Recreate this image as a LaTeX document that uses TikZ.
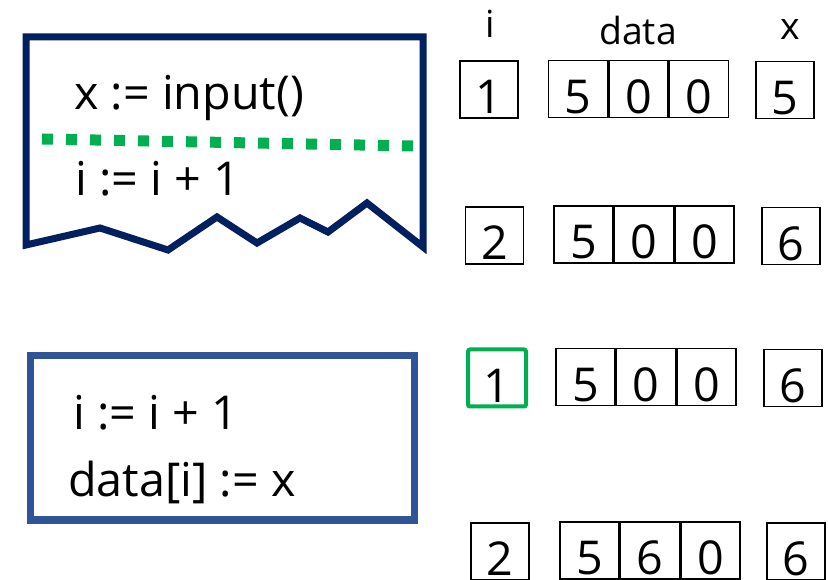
\documentclass[tikz,border=0pt]{standalone}
\usepackage{fontspec}
\setmainfont{Open Sans}
\definecolor{navy}{HTML}{002060}
\definecolor{midblue}{HTML}{2F5597}
\definecolor{okgreen}{HTML}{00B050}
\begin{document}
\begin{tikzpicture}[x=0.75pt,y=-0.75pt,
  code/.style={anchor=base west,inner sep=0,font=\fontsize{35pt}{42pt}\selectfont},
  head/.style={anchor=base,inner sep=0,font=\fontsize{28pt}{34pt}\selectfont},
  cell/.style={draw=black,line width=1.1pt,inner sep=0,minimum width=43.5pt,minimum height=42.75pt,
    text height=39.5pt,text depth=3.25pt,font=\fontsize{35pt}{42pt}\selectfont},
  dcell/.style={cell,minimum width=44.25pt},
  hl/.style={cell,draw=okgreen,line width=3pt,rounded corners=1.5pt}]
\useasboundingbox (0,0) rectangle (828,580);
% top fragment shape
\draw[navy,line width=5.25pt,line join=miter] (26,37) -- (423,37) -- (423,247) -- (367,203) -- (328,232) -- (300,218)
  -- (257,243) -- (217,217) -- (168,250) -- (100,228) -- (26,245) -- cycle;
\coordinate (gl) at (42,139);
\coordinate (gr) at (413,146);
\draw[okgreen,line width=8.25pt,dash pattern=on 8.25pt off 9.75pt] (gl) -- (gr);
\node[code] (t1) at (74,110) {x := input()};
\node[code] (t2) at (75,196) {i := i + 1};
% bottom box
\draw[midblue,line width=5.25pt] (30,356) rectangle (414,520);
\node[code] (t3) at (73,430) {i := i + 1};
\node[code] (t4) at (68,497) {data[i] := x};
% headers
\node[head] (hi) at (490,38) {i};
\node[head] (hd) at (638,45) {data};
\node[head] (hx) at (790,40) {x};
% row 1
\node[cell] (i1) at (489,89.5) {1};
\node[dcell] (a1) at (578,89) {5};
\node[dcell,anchor=west] (b1) at (a1.east) {0};
\node[dcell,anchor=west] (c1) at (b1.east) {0};
\node[cell] (x1) at (785,90) {5};
% row 2
\node[cell] (i2) at (494.5,235.5) {2};
\node[dcell] (a2) at (583.5,234.5) {5};
\node[dcell,anchor=west] (b2) at (a2.east) {0};
\node[dcell,anchor=west] (c2) at (b2.east) {0};
\node[cell] (x2) at (791,236) {6};
% row 3
\node[hl] (i3) at (497,378) {1};
\node[dcell] (a3) at (585.5,377) {5};
\node[dcell,anchor=west] (b3) at (a3.east) {0};
\node[dcell,anchor=west] (c3) at (b3.east) {0};
\node[cell] (x3) at (793,378) {6};
% row 4
\node[cell] (i4) at (500,551.5) {2};
\node[dcell] (a4) at (589.5,550.5) {5};
\node[dcell,anchor=west] (b4) at (a4.east) {6};
\node[dcell,anchor=west] (c4) at (b4.east) {0};
\node[cell] (x4) at (796,551.5) {6};
\end{tikzpicture}
\end{document}
